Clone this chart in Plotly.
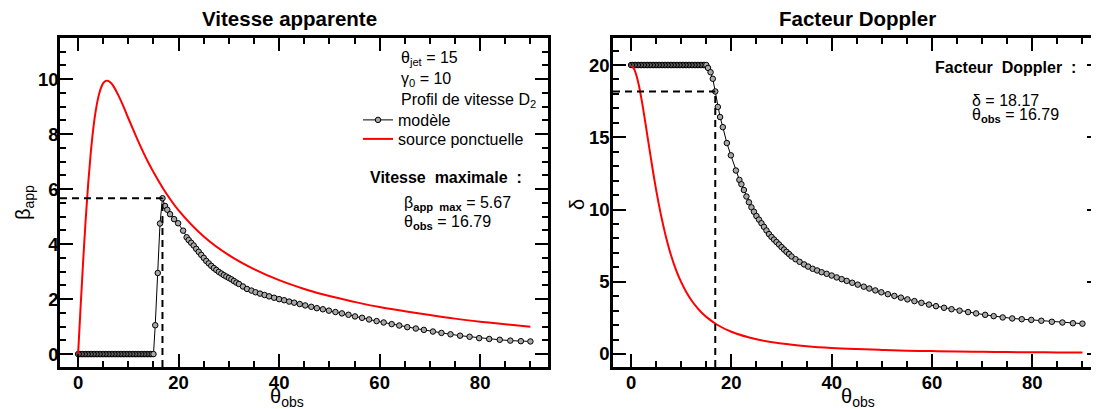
import plotly.graph_objects as go
from plotly.subplots import make_subplots

# --- donnees ---
# modele (profil de vitesse D2), theta_obs en degres
theta_flat = [0.0, 0.3, 0.6, 0.9, 1.2, 1.5, 1.8, 2.1, 2.4, 2.7, 3.0, 3.3, 3.6, 3.9,
              4.2, 4.5, 4.8, 5.1, 5.4, 5.7, 6.0, 6.3, 6.6, 6.9, 7.2, 7.5, 7.8, 8.1,
              8.4, 8.7, 9.0, 9.3, 9.6, 9.9, 10.2, 10.5, 10.8, 11.1, 11.4, 11.7, 12.0,
              12.3, 12.6, 12.9, 13.2, 13.5, 13.8, 14.1, 14.4, 14.7, 15.0]
theta_tail = [15.35, 15.85, 16.3, 16.79, 17.3, 17.75, 18.3, 19.1, 19.9, 20.9, 21.6,
              22.0, 22.5, 23.0, 23.5, 24.0, 24.5, 25.0, 25.5, 26.0, 26.5, 27.0, 27.5,
              28.0, 28.5, 29.0, 29.5, 30.0, 30.5, 31.0, 31.5,
              32.0, 32.8, 33.6, 34.5, 35.3, 36.2, 37.1, 38.0, 39.0, 40.0, 41.0, 42.0,
              43.0, 44.1, 45.2, 46.4, 47.5, 48.7, 49.9, 51.2, 52.5, 53.8, 55.1, 56.5,
              57.9, 59.4, 60.8, 62.4, 63.9, 65.5, 67.2, 68.8, 70.6, 72.3, 74.1, 76.0,
              77.9, 79.8, 81.8, 83.9, 86.0, 88.1, 90.0]
beta_tail = [1.05, 2.95, 4.75, 5.67, 5.39, 5.25, 5.09, 4.91, 4.76, 4.49, 4.25,
             4.15, 4.05, 3.95, 3.83, 3.72, 3.61, 3.50, 3.39, 3.30, 3.21, 3.13, 3.06,
             2.99, 2.93, 2.87, 2.82, 2.77, 2.72, 2.66, 2.60,
             2.55, 2.46, 2.37, 2.31, 2.25, 2.20, 2.15, 2.10, 2.05, 2.00, 1.96, 1.91,
             1.87, 1.82, 1.77, 1.72, 1.67, 1.63, 1.58, 1.53, 1.48, 1.43, 1.37, 1.32,
             1.26, 1.20, 1.15, 1.09, 1.04, 0.98, 0.93, 0.88, 0.82, 0.77, 0.72, 0.67,
             0.63, 0.58, 0.55, 0.52, 0.49, 0.47, 0.46]
delta_tail = [19.8, 19.5, 19.05, 18.17, 17.1, 16.4, 15.7, 14.6, 13.75, 12.7, 12.05,
              11.75, 11.35, 10.9, 10.5, 10.15, 9.85, 9.55, 9.3, 9.05, 8.8, 8.55, 8.3,
              8.1, 7.92, 7.75, 7.58, 7.4, 7.23, 7.07, 6.92,
              6.75, 6.56, 6.38, 6.2, 6.05, 5.9, 5.78, 5.66, 5.55, 5.43, 5.3, 5.18,
              5.06, 4.93, 4.8, 4.66, 4.53, 4.4, 4.27, 4.14, 4.02, 3.9, 3.78, 3.66,
              3.54, 3.42, 3.31, 3.2, 3.1, 3.0, 2.9, 2.81, 2.71, 2.62, 2.53, 2.46,
              2.41, 2.36, 2.3, 2.23, 2.18, 2.13, 2.1]

theta_model = theta_flat + theta_tail
beta_model = [0.0] * len(theta_flat) + beta_tail
delta_model = [20.0] * len(theta_flat) + delta_tail

# source ponctuelle
theta_point = [0, 0.5, 1, 1.5, 2, 2.5, 3, 3.5, 4, 4.5, 5, 5.5, 6, 6.5, 7, 8, 9, 10,
               11, 12, 13, 14, 15, 17, 20, 25, 30, 35, 40, 45, 50, 55, 60, 65, 70,
               75, 80, 85, 90]
beta_point = [0.0, 1.72, 3.36, 4.87, 6.18, 7.28, 8.17, 8.84, 9.33, 9.66, 9.86, 9.94,
              9.94, 9.87, 9.76, 9.42, 9.02, 8.58, 8.15, 7.73, 7.33, 6.96, 6.62, 6.0,
              5.23, 4.28, 3.6, 3.09, 2.69, 2.37, 2.11, 1.9, 1.71, 1.56, 1.42, 1.29,
              1.18, 1.085, 0.995]
delta_point = [19.95, 19.8, 19.36, 18.68, 17.8, 16.78, 15.68, 14.56, 13.45, 12.37,
               11.36, 10.42, 9.56, 8.77, 8.05, 6.8, 5.79, 4.97, 4.29, 3.74, 3.28, 2.89,
               2.57, 2.06, 1.54, 1.02, 0.72, 0.54, 0.42, 0.34, 0.28, 0.23, 0.2, 0.17,
               0.15, 0.13, 0.12, 0.11, 0.1]

theta_jet = 15
gamma0 = 10
theta_max = 16.79
beta_max = 5.67
delta_max = 18.17

FONT = "Liberation Sans"
W, H = 1099, 409
OFF = 8            # marge par defaut du <body> de la page
TOP, BOT = 38, 367  # cadre des graphes, en pixels de la fenetre


def px(x):
    return (x - OFF) / W


def py(y):
    return (BOT - y) / (BOT - TOP)


fig = make_subplots(rows=1, cols=2)

marker = dict(symbol="circle", size=5.5, color="#a8a8a8", line=dict(color="black", width=1))

fig.add_trace(go.Scatter(x=theta_model, y=beta_model, mode="lines+markers", name="modèle",
                         line=dict(color="black", width=1), marker=marker, legend="legend"), 1, 1)
fig.add_trace(go.Scatter(x=theta_point, y=beta_point, mode="lines", name="source ponctuelle",
                         line=dict(color="red", width=2, shape="spline"), legend="legend2"), 1, 1)
fig.add_trace(go.Scatter(x=theta_model, y=delta_model, mode="lines+markers", showlegend=False,
                         line=dict(color="black", width=1), marker=marker), 1, 2)
fig.add_trace(go.Scatter(x=theta_point, y=delta_point, mode="lines", showlegend=False,
                         line=dict(color="red", width=2, shape="spline")), 1, 2)

xr = [-3.6, 93.5]
yr1 = [-0.47, 11.5]
yr2 = [-0.9, 21.87]

dash = dict(color="black", width=2, dash="7px,5px")
fig.add_shape(type="line", xref="x", yref="y", x0=xr[0], x1=theta_max, y0=beta_max, y1=beta_max, line=dash)
fig.add_shape(type="line", xref="x", yref="y", x0=theta_max, x1=theta_max, y0=yr1[0], y1=beta_max, line=dash)
fig.add_shape(type="line", xref="x2", yref="y2", x0=xr[0], x1=theta_max, y0=delta_max, y1=delta_max, line=dash)
fig.add_shape(type="line", xref="x2", yref="y2", x0=theta_max, x1=theta_max, y0=yr2[0], y1=delta_max, line=dash)

axis = dict(showline=True, linewidth=2.5, linecolor="black", mirror="allticks",
            ticks="inside", ticklen=13, tickwidth=2, tickcolor="black",
            showgrid=False, zeroline=False, automargin=False,
            tickfont=dict(family=FONT, size=18.5, color="black", weight="bold"))

fig.update_xaxes(axis, range=xr, tickvals=[0, 20, 40, 60, 80], ticklabelstandoff=-3,
                 minor=dict(dtick=5, tick0=0, ticks="inside", ticklen=6, tickwidth=2, tickcolor="black"))
fig.update_xaxes(domain=[px(60), px(548)], row=1, col=1)
fig.update_xaxes(domain=[px(613), px(1100)], row=1, col=2)

fig.update_yaxes(axis, range=yr1, dtick=2, tick0=0, ticklabelstandoff=-5,
                 minor=dict(dtick=0.5, tick0=0, ticks="inside", ticklen=6, tickwidth=2, tickcolor="black"),
                 row=1, col=1)
fig.update_yaxes(axis, range=yr2, dtick=5, tick0=0, ticklabelstandoff=-3,
                 minor=dict(dtick=1, tick0=0, ticks="inside", ticklen=6, tickwidth=2, tickcolor="black"),
                 row=1, col=2)

txt = dict(family=FONT, size=16, color="black")
big = dict(family=FONT, size=20.5, color="black")
lab = dict(family=FONT, size=20, color="black")
notes = [
    ("<b>Vitesse apparente</b>", 289, 18, "center", big, 0),
    ("<b>Facteur Doppler</b>", 857, 18, "center", big, 0),
    ("θ<sub>obs</sub>", 287, 397, "center", lab, 0),
    ("θ<sub>obs</sub>", 858, 397, "center", lab, 0),
    ("β<sub>app</sub>", 24, 203, "center", lab, -90),
    ("δ", 577, 205, "center", lab, -90),
    (f"θ<sub>jet</sub> = {theta_jet}", 399, 58, "left", txt, 0),
    (f"γ<sub>0</sub> = {gamma0}", 399, 80, "left", txt, 0),
    ("Profil de vitesse D<sub>2</sub>", 399, 100, "left", txt, 0),
    ("<b>Vitesse\u00a0 maximale\u00a0 :</b>", 368, 178, "left", txt, 0),
    (f"β<sub><b>app\u00a0 max</b></sub> = {beta_max}", 402, 203, "left", txt, 0),
    (f"θ<sub><b>obs</b></sub> = {theta_max}", 402, 222, "left", txt, 0),
    ("<b>Facteur\u00a0 Doppler\u00a0 :</b>", 933, 68, "left", txt, 0),
    (f"δ = {delta_max}", 970, 100, "left", txt, 0),
    (f"θ<sub><b>obs</b></sub> = {theta_max}", 970, 116, "left", txt, 0),
]
for text, x, y, anchor, font, angle in notes:
    fig.add_annotation(text=text, x=px(x), y=py(y), xref="paper", yref="paper",
                       xanchor=anchor, yanchor="middle", showarrow=False, font=font,
                       textangle=angle)

leg = dict(xanchor="left", yanchor="middle", bgcolor="rgba(0,0,0,0)",
           font=dict(family=FONT, size=16, color="black"), itemwidth=30)
fig.update_layout(
    width=W, height=H,
    margin=dict(l=0, r=0, t=TOP - OFF, b=H - (BOT - OFF)),
    plot_bgcolor="white", paper_bgcolor="white",
    showlegend=True,
    legend=dict(leg, x=px(358), y=py(120)),
    legend2=dict(leg, x=px(358), y=py(139)),
)

fig.write_html("out.html")
